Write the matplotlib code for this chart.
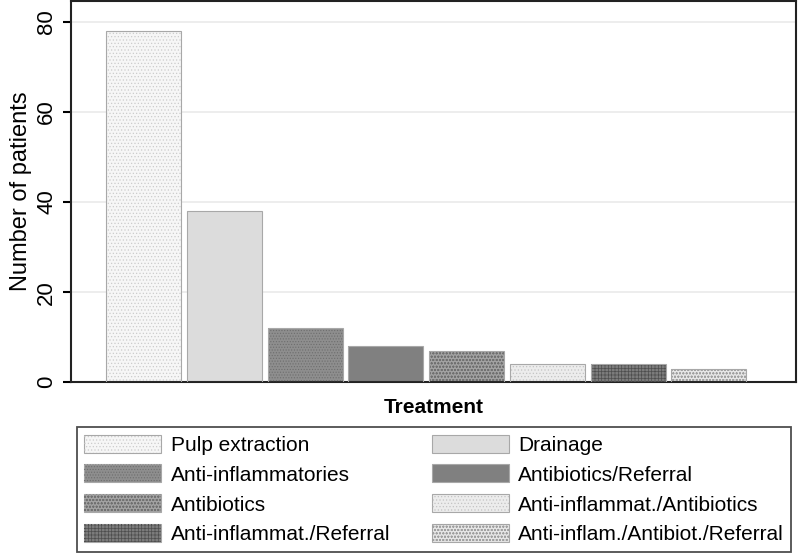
import numpy as np
import matplotlib
matplotlib.use('Agg')
import matplotlib.pyplot as plt
from matplotlib.patches import Patch
from matplotlib.legend_handler import HandlerTuple

plt.rcParams['font.family'] = ['Liberation Sans', 'DejaVu Sans']
plt.rcParams['hatch.linewidth'] = 0.5

# treatments and patient counts
treatments = ['Pulp extraction', 'Drainage', 'Anti-inflammatories', 'Antibiotics/Referral',
              'Antibiotics', 'Anti-inflammat./Antibiotics', 'Anti-inflammat./Referral',
              'Anti-inflam./Antibiot./Referral']
patients = [78, 38, 12, 8, 7, 4, 4, 3]

# grey fills, pattern colours and patterns (Stata-like)
fills = ['#f6f6f6', '#dcdcdc', '#8e8e8e', '#808080', '#a2a2a2', '#ececec', '#7c7c7c', '#e6e6e6']
hatch_colors = ['#cccccc', '#dcdcdc', '#6e6e6e', '#808080', '#707070', '#c4c4c4', '#4e4e4e', '#a0a0a0']
hatches = ['.....', '', '......', '', 'ooooo', '.....', '+++++', 'ooooo']

fig = plt.figure(figsize=(7.98, 5.54), dpi=100)
ax = fig.add_axes([0.089, 0.31, 0.9085, 0.688])

x = np.arange(len(patients))
for i in range(len(patients)):
    ax.bar(x[i], patients[i], width=0.93, color=fills[i], edgecolor='none', zorder=2)
    ax.bar(x[i], patients[i], width=0.93, color='none', edgecolor=hatch_colors[i],
           hatch=hatches[i], linewidth=0, zorder=3)
    ax.bar(x[i], patients[i], width=0.93, color='none', edgecolor='#a8a8a8', linewidth=0.8, zorder=4)

ax.set_xlim(-0.9, 8.08)
ax.set_ylim(0, 84.6)
ax.set_yticks([0, 20, 40, 60, 80])
ax.set_yticklabels(['0', '20', '40', '60', '80'], rotation=90, va='center', fontsize=16)
ax.set_xticks([])
ax.yaxis.grid(True, color='#eaeaea', linewidth=1.2, zorder=0)
ax.set_axisbelow(True)
ax.tick_params(axis='y', length=6, width=1.5, pad=4)
for s in ax.spines.values():
    s.set_linewidth(1.5)
    s.set_color('#222222')

ax.set_ylabel('Number of patients', fontsize=17, labelpad=3)
ax.set_xlabel('Treatment', fontsize=15, fontweight='bold', labelpad=11)

# legend swatches: fill + pattern overlaid
leg_handles = []
for i in range(len(patients)):
    p1 = Patch(facecolor=fills[i], edgecolor='#a8a8a8', linewidth=0.8)
    p2 = Patch(facecolor='none', edgecolor=hatch_colors[i], hatch=hatches[i], linewidth=0)
    leg_handles.append((p1, p2))

order = [0, 2, 4, 6, 1, 3, 5, 7]
leg = fig.legend([leg_handles[i] for i in order], [treatments[i] for i in order],
                 handler_map={tuple: HandlerTuple(ndivide=1, pad=0)},
                 ncol=2, loc='lower left', bbox_to_anchor=(0.0965, 0.004, 0.895, 0.225),
                 mode='expand', borderaxespad=0, fontsize=15, frameon=True, fancybox=False,
                 handlelength=3.7, handleheight=0.95, handletextpad=0.45,
                 labelspacing=0.47, borderpad=0.35)
leg.get_frame().set_edgecolor('#222222')
leg.get_frame().set_linewidth(1.3)

fig.savefig('out.png', dpi=100)
